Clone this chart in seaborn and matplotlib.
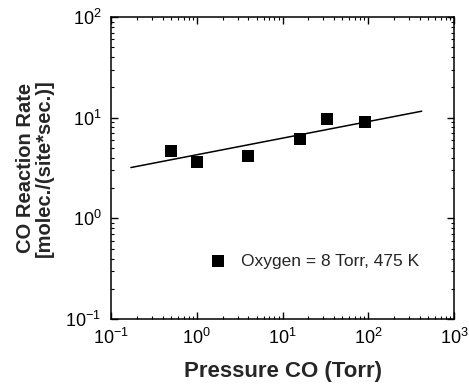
import matplotlib
matplotlib.use("Agg")
import matplotlib.pyplot as plt
import seaborn as sns
import pandas as pd
from matplotlib.ticker import LogLocator, NullFormatter

sns.set_theme(style="ticks")
plt.rcParams['font.family'] = ['Liberation Sans', 'DejaVu Sans']
plt.rcParams['mathtext.fontset'] = 'custom'
plt.rcParams['mathtext.rm'] = 'Liberation Sans'

# Data
pressure_co = [0.50, 1.0, 4.0, 16.0, 33.0, 92.0]
rate = [4.7, 3.6, 4.2, 6.1, 9.7, 9.1]
fit_pressure = [0.17, 420.0]
fit_rate = [3.2, 11.6]
series_label = "Oxygen = 8 Torr, 475 K"

df = pd.DataFrame({"p": pressure_co, "r": rate})
fit = pd.DataFrame({"p": fit_pressure, "r": fit_rate})

fig = plt.figure(figsize=(4.69, 3.85), dpi=100)
ax = fig.add_axes([0.237, 0.171, 0.731, 0.785])

sns.lineplot(data=fit, x="p", y="r", ax=ax, color="black", linewidth=1.1, legend=False)
sns.scatterplot(data=df, x="p", y="r", ax=ax, marker="s", s=85, color="black",
                edgecolor="black", linewidth=0, label=series_label)

ax.set_xscale("log")
ax.set_yscale("log")
ax.set_xlim(0.1, 1000)
ax.set_ylim(0.1, 100)

ax.xaxis.set_major_locator(LogLocator(base=10, numticks=10))
ax.yaxis.set_major_locator(LogLocator(base=10, numticks=10))
ax.xaxis.set_minor_locator(LogLocator(base=10, subs=range(2, 10), numticks=20))
ax.yaxis.set_minor_locator(LogLocator(base=10, subs=range(2, 10), numticks=20))
ax.xaxis.set_minor_formatter(NullFormatter())
ax.yaxis.set_minor_formatter(NullFormatter())

ax.tick_params(which="both", direction="in", top=True, right=True, colors="black")
ax.tick_params(which="major", length=5, width=1, labelsize=13)
ax.tick_params(axis="y", which="major", pad=7)
ax.tick_params(axis="x", which="major", pad=6)
ax.tick_params(which="minor", length=2.5, width=0.8)
for s in ax.spines.values():
    s.set_color("black")
    s.set_linewidth(1.1)

ax.set_xlabel("Pressure CO (Torr)", fontsize=16, fontweight="bold", labelpad=10)
ax.set_ylabel("CO Reaction Rate\n[molec./(site*sec.)]", fontsize=14.5, fontweight="bold",
              labelpad=8, linespacing=1.0)

leg = ax.legend(loc="center left", bbox_to_anchor=(0.24, 0.192), frameon=False,
                fontsize=12.5, handletextpad=0.35, markerscale=1.0, borderaxespad=0)

fig.savefig("out.png", dpi=100, facecolor="white")
